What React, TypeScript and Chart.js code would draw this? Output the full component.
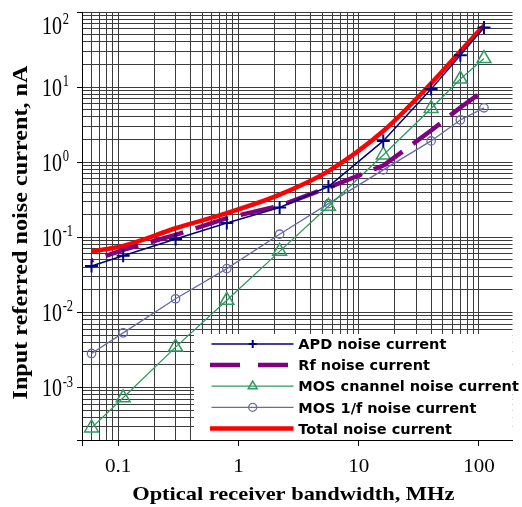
import React, { useEffect, useRef } from 'react';
import { Chart, registerables } from 'chart.js';
import { drawPoint } from 'chart.js/helpers';

Chart.register(...registerables);

// ---- data ----
const bandwidthMHz = [0.06, 0.11, 0.3, 0.8, 2.2, 5.6, 16, 40, 70, 110];
const apdNoise = [0.0415, 0.0567, 0.095, 0.155, 0.249, 0.474, 1.92, 9.4, 26.6, 62];
const rfNoise = [0.049, 0.068, 0.108, 0.18, 0.263, 0.46, 0.9, 2.64, 5.36, 9.0];
const mosChannelNoise = [0.00029, 0.00073, 0.00345, 0.0145, 0.065, 0.259, 1.25, 5.2, 12.8, 24];
const mos1fNoise = [0.00284, 0.00534, 0.0152, 0.0383, 0.11, 0.281, 0.79, 1.92, 3.65, 5.3];
const totalNoise = [0.065, 0.077, 0.132, 0.21, 0.37, 0.76, 2.6, 11.2, 30, 66];

const seriesNames = [
  'APD noise current',
  'Rf noise current',
  'MOS cnannel noise current',
  'MOS 1/f noise current',
  'Total noise current',
];

const xTickValues = [0.1, 1, 10, 100];
const xTickLabels = ['0.1', '1', '10', '100'];
const yTickValues = [0.001, 0.01, 0.1, 1, 10, 100];
const yTickExponents = ['-3', '-2', '-1', '0', '1', '2'];

const xTitle = 'Optical receiver bandwidth, MHz';
const yTitle = 'Input referred noise current, nA';

const X_MIN = 0.05;
const X_GRID_MAX = 100;
const X_MAX = 190;
const Y_MIN = 0.0002;
const Y_MAX = 100;

const GRID = '#3c3c3c';
const SERIF = '"Liberation Serif", "Times New Roman", serif';
const SANS = '"DejaVu Sans", Verdana, sans-serif';

const COLORS = ['#000080', '#800080', '#2f9a62', '#6a6aa8', '#ff0000'];

function logGrid(min: number, max: number): number[] {
  const out: number[] = [];
  for (let e = -5; e <= 3; e++) {
    for (let m = 1; m <= 9; m++) {
      const v = +(m * Math.pow(10, e)).toPrecision(6);
      if (v >= min * 0.99999 && v <= max * 1.00001) out.push(v);
    }
  }
  return out;
}

const near = (a: number, b: number) => Math.abs(a / b - 1) < 1e-6;
const isMajorX = (v: number) => near(v, X_MIN) || xTickValues.some((m) => near(v, m));
const isMajorY = (v: number) => near(v, Y_MIN) || yTickValues.some((m) => near(v, m));

function txt(
  ctx: CanvasRenderingContext2D,
  text: string,
  x: number,
  y: number,
  font: string,
  sx: number,
  sy: number,
  align: CanvasTextAlign,
  rot = 0
) {
  ctx.save();
  ctx.translate(x, y);
  if (rot) ctx.rotate(rot);
  ctx.scale(sx, sy);
  ctx.font = font;
  ctx.textAlign = align;
  ctx.textBaseline = 'alphabetic';
  ctx.fillText(text, 0, 0);
  ctx.restore();
}

const customPlugin = {
  id: 'customText',
  afterDraw(chart: any) {
    const { ctx, chartArea } = chart;
    const xs = chart.scales.x;
    const ys = chart.scales.y;
    ctx.save();

    // ---- legend ----
    const lgLeft = 194;
    const lgTop = 334;
    ctx.fillStyle = '#ffffff';
    ctx.fillRect(lgLeft, lgTop, chartArea.right - lgLeft, chartArea.bottom - lgTop);
    const ds = chart.data.datasets;
    seriesNames.forEach((name: string, i: number) => {
      const cy = 344 + i * 21.1;
      const d = ds[i];
      ctx.save();
      ctx.strokeStyle = d.borderColor;
      ctx.lineWidth = d.borderWidth;
      ctx.lineCap = 'butt';
      ctx.setLineDash(i === 1 ? [30, 18] : []);
      ctx.beginPath();
      ctx.moveTo(i === 1 || i === 4 ? 210 : 211.5, cy);
      ctx.lineTo(i === 1 ? 290 : 293.5, cy);
      ctx.stroke();
      ctx.setLineDash([]);
      if (d.pointRadius > 0) {
        ctx.strokeStyle = d.pointBorderColor;
        ctx.fillStyle = 'rgba(0,0,0,0)';
        ctx.lineWidth = d.pointBorderWidth;
        const r = d.pointStyle === 'triangle' ? 5.2 : 4;
        drawPoint(ctx, { pointStyle: d.pointStyle, rotation: 0, radius: r, borderWidth: d.pointBorderWidth } as any, 252.7, cy);
      }
      ctx.restore();
      ctx.fillStyle = '#000';
      txt(ctx, name, 298.3, cy + 5.2, `bold 14.5px ${SANS}`, 1, 1, 'left');
    });

    ctx.fillStyle = '#000';
    // ---- y tick labels (10 with superscript exponent) ----
    yTickValues.forEach((v, i) => {
      const py = Math.max(ys.getPixelForValue(v), chartArea.top + 13);
      txt(ctx, '10', 62, py + 8.8, `20px ${SERIF}`, 1, 1.3, 'right');
      txt(ctx, yTickExponents[i], 62.7, py - 1, `12.5px ${SERIF}`, 1, 1.3, 'left');
    });

    // ---- x tick labels ----
    xTickValues.forEach((v, i) => {
      const px = xs.getPixelForValue(v);
      txt(ctx, xTickLabels[i], px, chartArea.bottom + 31.7, `18.5px ${SERIF}`, 1.14, 1, 'center');
    });

    // ---- axis titles ----
    txt(ctx, xTitle, 293.3, chartArea.bottom + 60, `bold 19.5px ${SERIF}`, 1.15, 1, 'center');
    txt(ctx, yTitle, 26.5, 232.5, `bold 20px ${SERIF}`, 1.21, 1, 'center', -Math.PI / 2);

    ctx.restore();
  },
};

const pts = (ys: number[]) => bandwidthMHz.map((x, i) => ({ x, y: ys[i] }));

export default function App() {
  const ref = useRef<HTMLCanvasElement | null>(null);

  useEffect(() => {
    if (!ref.current) return;
    const xGrid = logGrid(X_MIN, X_GRID_MAX);
    const yGrid = logGrid(Y_MIN, Y_MAX);
    const chart = new Chart(ref.current, {
      type: 'line',
      data: {
        datasets: [
          {
            label: seriesNames[0],
            data: pts(apdNoise),
            borderColor: COLORS[0],
            borderWidth: 1.5,
            pointStyle: 'cross',
            pointRadius: 6.5,
            pointBorderWidth: 2,
            pointBorderColor: COLORS[0],
            pointBackgroundColor: 'rgba(0,0,0,0)',
          },
          {
            label: seriesNames[1],
            data: pts(rfNoise),
            borderColor: COLORS[1],
            borderWidth: 4.5,
            borderDash: [34, 13],
            borderDashOffset: 32,
            borderCapStyle: 'butt',
            pointRadius: 0,
          },
          {
            label: seriesNames[2],
            data: pts(mosChannelNoise),
            borderColor: COLORS[2],
            borderWidth: 1.3,
            pointStyle: 'triangle',
            pointRadius: 8,
            pointBorderWidth: 1.5,
            pointBorderColor: COLORS[2],
            pointBackgroundColor: 'rgba(0,0,0,0)',
          },
          {
            label: seriesNames[3],
            data: pts(mos1fNoise),
            borderColor: COLORS[3],
            borderWidth: 1.3,
            pointStyle: 'circle',
            pointRadius: 4.2,
            pointBorderWidth: 1.3,
            pointBorderColor: COLORS[3],
            pointBackgroundColor: 'rgba(0,0,0,0)',
          },
          {
            label: seriesNames[4],
            data: pts(totalNoise),
            borderColor: COLORS[4],
            borderWidth: 4.5,
            pointRadius: 0,
            cubicInterpolationMode: 'monotone',
          },
        ] as any,
      },
      options: {
        animation: false,
        responsive: false,
        maintainAspectRatio: false,
        events: [],
        layout: { padding: { top: 12, right: 0, left: 0, bottom: 0 } },
        plugins: {
          legend: { display: false },
          tooltip: { enabled: false },
          title: { display: false },
        },
        scales: {
          x: {
            type: 'logarithmic',
            min: X_MIN,
            max: X_MAX,
            afterBuildTicks: (s: any) => {
              s.ticks = xGrid.map((v) => ({ value: v }));
            },
            afterFit: (s: any) => {
              s.height = 67;
            },
            ticks: { display: false },
            grid: {
              color: GRID,
              lineWidth: 1,
              drawTicks: true,
              tickLength: 6,
              tickColor: (c: any) => (c.tick && isMajorX(c.tick.value) ? '#000' : 'rgba(0,0,0,0)'),
            },
            border: { display: true, color: '#000', width: 1 },
          },
          y: {
            type: 'logarithmic',
            min: Y_MIN,
            max: Y_MAX,
            afterBuildTicks: (s: any) => {
              s.ticks = yGrid.map((v) => ({ value: v }));
            },
            afterFit: (s: any) => {
              s.width = 82;
            },
            ticks: { display: false },
            grid: {
              color: GRID,
              lineWidth: 1,
              drawTicks: true,
              tickLength: 5,
              tickColor: (c: any) => (c.tick && isMajorY(c.tick.value) ? '#000' : 'rgba(0,0,0,0)'),
            },
            border: { display: true, color: '#000', width: 1 },
          },
        },
      } as any,
      plugins: [customPlugin],
    });
    return () => chart.destroy();
  }, []);

  return (
    <div style={{ position: 'absolute', left: 0, top: 0, width: 522, height: 507, background: '#fff' }}>
      <canvas ref={ref} width={522} height={507} style={{ display: 'block', width: 522, height: 507 }} />
    </div>
  );
}
